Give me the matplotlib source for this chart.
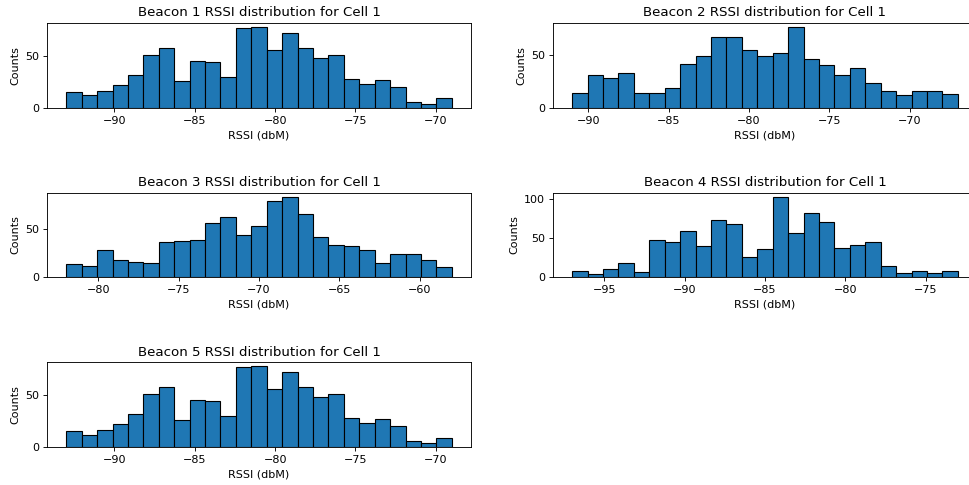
import numpy as np
import matplotlib
matplotlib.use("Agg")
import matplotlib.pyplot as plt
from matplotlib.ticker import MultipleLocator

# rssi range (min, max) per beacon, 25 bins each
ranges = [(-93, -69), (-91, -67), (-82, -58), (-97, -73), (-93, -69)]

beacon1 = [15, 12, 16, 22, 32, 51, 58, 26, 45, 44, 30, 77, 78, 56, 72, 58, 48, 51, 28, 23, 27, 20, 6, 4, 9]
beacon2 = [14, 31, 28, 33, 14, 14, 19, 41, 49, 67, 67, 54, 49, 52, 76, 46, 40, 31, 37, 23, 16, 12, 16, 16, 13]
beacon3 = [14, 12, 28, 18, 16, 15, 36, 37, 38, 56, 62, 44, 53, 78, 83, 65, 42, 33, 32, 28, 15, 24, 24, 18, 11]
beacon4 = [8, 4, 11, 18, 7, 48, 45, 59, 40, 73, 68, 26, 36, 103, 56, 82, 71, 38, 41, 45, 15, 6, 8, 6, 8]
beacon5 = [15, 12, 16, 22, 32, 51, 58, 26, 45, 44, 30, 77, 78, 56, 72, 58, 48, 51, 28, 23, 27, 20, 6, 4, 9]

counts = [beacon1, beacon2, beacon3, beacon4, beacon5]

dpi = 80
fig, axes = plt.subplots(3, 2, figsize=(969 / dpi, 485 / dpi), dpi=dpi)
axes = axes.flatten()

for i, (c, (lo, hi)) in enumerate(zip(counts, ranges)):
    ax = axes[i]
    edges = np.linspace(lo, hi, len(c) + 1)
    centers = (edges[:-1] + edges[1:]) / 2
    ax.hist(centers, bins=edges, weights=c, color='#1f77b4', edgecolor='black')
    ax.set_title(f"Beacon {i+1} RSSI distribution for Cell 1")
    ax.set_ylabel("Counts")
    ax.set_xlabel("RSSI (dbM)")
    ax.yaxis.set_major_locator(MultipleLocator(50))

axes[5].axis('off')

# right column runs past the figure edge, as in the original crop
plt.subplots_adjust(left=0.0485, right=1.0083, top=0.9526, bottom=0.0784, wspace=0.193, hspace=1.0)
plt.savefig("out.png", dpi=dpi)
